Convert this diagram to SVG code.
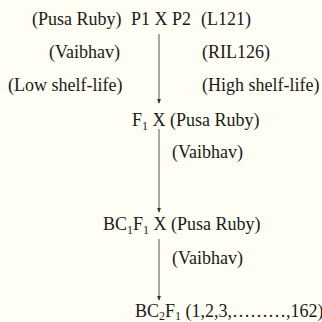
<svg xmlns="http://www.w3.org/2000/svg" width="322" height="322" viewBox="0 0 322 322">
  <defs>
    <style>
      text { font-family: "Liberation Serif", "Times New Roman", serif; font-size: 18px; fill: #1a1a1a; }
      .sub { font-size: 12px; }
      .link { stroke: #555; stroke-width: 1; fill: none; marker-end: url(#head); }
    </style>
    <marker id="head" viewBox="0 0 6 6" refX="5" refY="3" markerWidth="5" markerHeight="4" orient="auto" markerUnits="userSpaceOnUse" preserveAspectRatio="none">
      <path d="M0,0 L6,3 L0,6 z" fill="#333"/>
    </marker>
  </defs>
  <rect width="322" height="322" fill="#fefef4"/>

  <g id="connectors">
    <line class="link" x1="159" y1="34" x2="159" y2="103"/>
    <line class="link" x1="159" y1="129" x2="159" y2="212"/>
    <line class="link" x1="159" y1="239" x2="159" y2="300"/>
  </g>

  <g id="parents">
    <text x="32" y="25">(Pusa Ruby)</text>
    <text x="131" y="25">P1 X P2</text>
    <text x="201" y="25">(L121)</text>
    <text x="49" y="58">(Vaibhav)</text>
    <text x="202" y="58">(RIL126)</text>
    <text x="8" y="91">(Low shelf-life)</text>
    <text x="202" y="91">(High shelf-life)</text>
  </g>

  <g id="f1-cross">
    <text x="132" y="126">F<tspan class="sub" dy="4">1</tspan><tspan dy="-4"> X (Pusa Ruby)</tspan></text>
    <text x="172" y="158">(Vaibhav)</text>
  </g>

  <g id="bc1f1-cross">
    <text x="103" y="230">BC<tspan class="sub" dy="4">1</tspan><tspan dy="-4">F</tspan><tspan class="sub" dy="4">1</tspan><tspan dy="-4"> X (Pusa Ruby)</tspan></text>
    <text x="172" y="264">(Vaibhav)</text>
  </g>

  <g id="bc2f1">
    <text x="135" y="317">BC<tspan class="sub" dy="3">2</tspan><tspan dy="-3">F</tspan><tspan class="sub" dy="3">1</tspan><tspan dy="-3"> (1,2,3,………,162)</tspan></text>
  </g>
</svg>
